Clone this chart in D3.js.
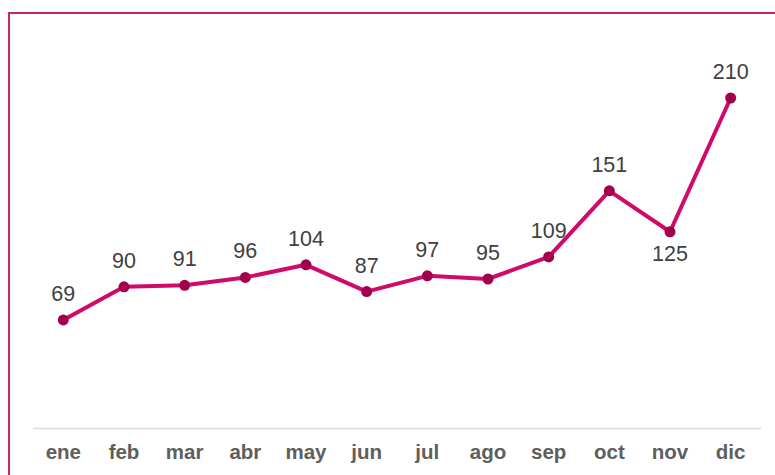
<!DOCTYPE html>
<html><head><meta charset="utf-8">
<script src="https://cdn.jsdelivr.net/npm/d3@7/dist/d3.min.js"></script>
<style>html,body{margin:0;padding:0;background:#fff;overflow:hidden}</style>
</head><body>
<svg id="chart" width="775" height="475"></svg>
<script>
const months = ["ene","feb","mar","abr","may","jun","jul","ago","sep","oct","nov","dic"];
const values = [69,90,91,96,104,87,97,95,109,151,125,210];
const labelBelow = ["nov"];

const svg = d3.select("#chart");
// frame
svg.append("rect").attr("x",9).attr("y",13).attr("width",800).attr("height",500)
  .attr("fill","none").attr("stroke","#c8285e").attr("stroke-width",2);

const left = 33, right = 761, axisY = 428.5;
const x = d3.scaleBand().domain(months).range([left,right]);
const y = d3.scaleLinear().domain([0,210]).range([axisY, 98]);

svg.append("line").attr("x1",left).attr("x2",right).attr("y1",axisY).attr("y2",axisY)
  .attr("stroke","#d9d9d9").attr("stroke-width",1.5);

const cx = d => x(d) + x.bandwidth()/2;

svg.selectAll("text.cat").data(months).enter().append("text")
  .attr("class","cat").attr("x",d=>cx(d)).attr("y",459)
  .attr("text-anchor","middle").attr("font-family","Liberation Sans, Arial, sans-serif")
  .attr("font-size",20.5).attr("font-weight","bold").attr("fill","#5e5e5e").text(d=>d);

const line = d3.line().x((d,i)=>cx(months[i])).y(d=>y(d));
svg.append("path").datum(values).attr("d",line).attr("fill","none")
  .attr("stroke","#d00a6a").attr("stroke-width",4).attr("stroke-linejoin","round");

svg.selectAll("circle").data(values).enter().append("circle")
  .attr("cx",(d,i)=>cx(months[i])).attr("cy",d=>y(d)).attr("r",5.5)
  .attr("fill","#a3004c");

svg.selectAll("text.val").data(values).enter().append("text")
  .attr("class","val")
  .attr("x",(d,i)=>cx(months[i]))
  .attr("y",(d,i)=> labelBelow.includes(months[i]) ? y(d)+29 : y(d)-19)
  .attr("text-anchor","middle").attr("font-family","Liberation Sans, Arial, sans-serif")
  .attr("font-size",21.5).attr("fill","#404040").text(d=>d);
</script>
</body></html>
